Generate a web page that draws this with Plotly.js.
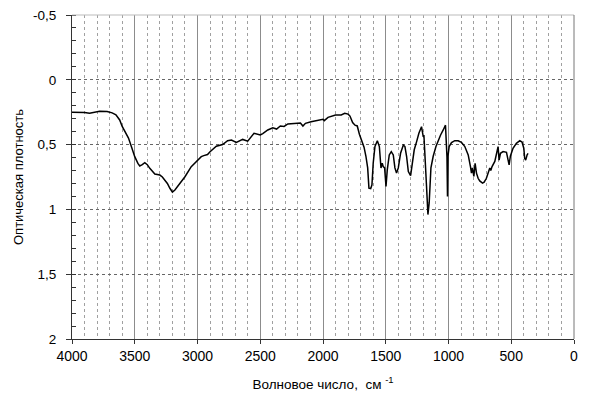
<!DOCTYPE html>
<html>
<head>
<meta charset="utf-8">
<script src="https://cdn.plot.ly/plotly-3.0.1.min.js"></script>
<style>html,body{margin:0;padding:0;background:#fff;}</style>
</head>
<body>
<div id="chart" style="width:601px;height:401px;"></div>
<script>
const wavenumber = [4000,3950,3900,3860,3820,3780,3720,3680,3650,3620,3600,3575,3550,3525,3500,3475,3460,3440,3420,3400,3380,3340,3300,3280,3260,3240,3220,3200,3180,3150,3100,3050,3000,2970,2950,2920,2900,2850,2800,2760,2730,2690,2640,2600,2550,2500,2480,2440,2400,2370,2340,2310,2280,2200,2180,2160,2140,2095,2000,1990,1960,1900,1855,1827,1800,1785,1764,1745,1727,1710,1692,1673,1658,1644,1634,1620,1610,1600,1586,1567,1551,1538,1528,1520,1509,1498,1488,1472,1456,1440,1427,1414,1400,1382,1360,1347,1334,1320,1302,1289,1273,1254,1236,1215,1201,1196,1185,1175,1164,1154,1140,1122,1100,1082,1063,1042,1024,1012,1008,1004,995,976,950,923,897,870,843,825,817,809,798,788,777,764,751,729,716,698,684,671,663,653,631,613,605,597,586,565,538,525,517,507,486,459,432,414,400,393,385,374,366];
const absorbance = [0.25,0.25,0.252,0.258,0.248,0.243,0.245,0.255,0.27,0.31,0.36,0.41,0.45,0.52,0.593,0.645,0.665,0.655,0.64,0.655,0.683,0.727,0.735,0.75,0.773,0.80,0.837,0.866,0.85,0.81,0.748,0.67,0.62,0.593,0.585,0.577,0.555,0.512,0.50,0.47,0.465,0.483,0.46,0.473,0.413,0.426,0.415,0.387,0.37,0.38,0.356,0.36,0.341,0.336,0.333,0.357,0.336,0.323,0.305,0.315,0.29,0.272,0.272,0.259,0.265,0.28,0.33,0.35,0.356,0.42,0.477,0.52,0.59,0.68,0.836,0.84,0.81,0.644,0.515,0.47,0.515,0.68,0.644,0.67,0.68,0.823,0.695,0.58,0.554,0.58,0.68,0.72,0.68,0.567,0.503,0.515,0.59,0.708,0.74,0.644,0.54,0.477,0.413,0.362,0.44,0.426,0.59,0.823,1.04,0.95,0.68,0.59,0.515,0.464,0.426,0.387,0.35,0.6,0.9,0.59,0.515,0.485,0.47,0.47,0.482,0.515,0.58,0.67,0.72,0.68,0.746,0.644,0.72,0.76,0.78,0.797,0.79,0.76,0.72,0.68,0.70,0.67,0.63,0.54,0.515,0.62,0.567,0.554,0.56,0.62,0.656,0.59,0.528,0.49,0.47,0.48,0.528,0.605,0.62,0.58,0.567];
const yTickVals = [-0.5,0,0.5,1,1.5,2];
const yTickText = ["-0,5","0","0,5","1","1,5","2"];
const xTickVals = [4000,3500,3000,2500,2000,1500,1000,500,0];
const xTickText = ["4000","3500","3000","2500","2000","1500","1000","500","0"];

const trace = {
  x: wavenumber, y: absorbance, type: 'scatter', mode: 'lines',
  line: {color: '#000', width: 1.5}, hoverinfo: 'skip'
};
const fam = 'Liberation Sans, Arial, sans-serif';
const font = {family: fam, size: 13, color: '#000'};
const layout = {
  width: 601, height: 401,
  margin: {l: 72, r: 27, t: 15, b: 62},
  paper_bgcolor: '#fff', plot_bgcolor: '#fff',
  font: font,
  showlegend: false,
  xaxis: {
    range: [4000, 0], tickmode: 'array', tickvals: xTickVals, ticktext: xTickText,
    ticks: 'outside', ticklen: 4, tickcolor: '#333', tickwidth: 1,
    showline: true, linecolor: '#333', linewidth: 1,
    showgrid: true, gridcolor: '#8c8c8c', gridwidth: 1,
    minor: {dtick: 100, tick0: 0, showgrid: true, gridcolor: '#a0a0a0', griddash: 'dot', gridwidth: 1, ticks: ''},
    zeroline: false, tickfont: {family: fam, size: 14, color: '#000'},
    title: {text: 'Волновое число,  см <sup>-1</sup>', font: {family: fam, size: 13.5, color: '#000'}, standoff: 16}
  },
  yaxis: {
    range: [2, -0.5], tickmode: 'array', tickvals: yTickVals, ticktext: yTickText,
    ticks: 'outside', ticklen: 5, tickcolor: '#333', tickwidth: 1,
    showline: true, linecolor: '#333', linewidth: 1,
    showgrid: true, gridcolor: '#666', griddash: 'dot', gridwidth: 1,
    minor: {dtick: 0.1, tick0: 0, ticks: 'inside', ticklen: 4, tickcolor: '#333', showgrid: false},
    zeroline: false, tickfont: {family: fam, size: 13.5, color: '#000'},
    ticklabelstandoff: 7,
    title: {text: 'Оптическая плотность', font: {family: fam, size: 13, color: '#000'}, standoff: 6}
  },
  shapes: [
    {type: 'line', xref: 'paper', yref: 'paper', x0: 0, x1: 1, y0: 1, y1: 1, line: {color: '#bbbbbb', width: 1}},
    {type: 'line', xref: 'paper', yref: 'paper', x0: 1, x1: 1, y0: 0, y1: 1, line: {color: '#777777', width: 1}}
  ]
};
Plotly.newPlot('chart', [trace], layout, {staticPlot: true, displayModeBar: false});
</script>
</body>
</html>
